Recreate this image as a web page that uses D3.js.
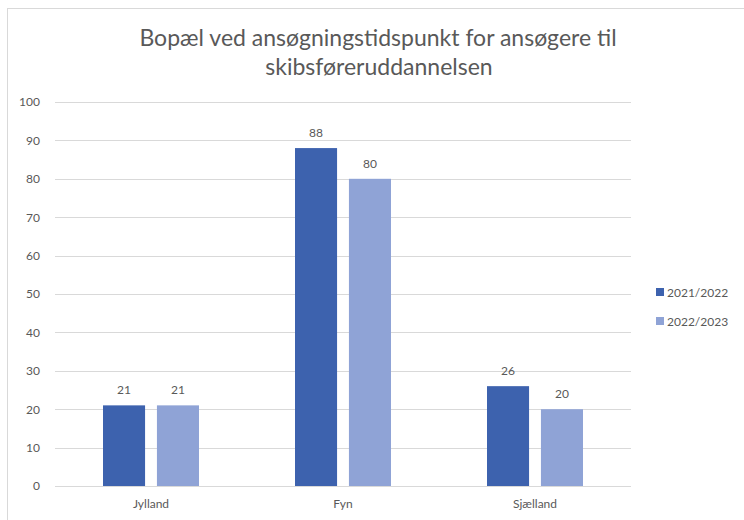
<!DOCTYPE html>
<html>
<head>
<meta charset="utf-8">
<script src="https://cdn.jsdelivr.net/npm/d3@7"></script>
<style>
  body { margin: 0; background: #fff; }
  text { font-family: Lato, "Open Sans", sans-serif; fill: #595959; }
</style>
</head>
<body>
<div id="chart"></div>
<script>
// data
var regions = ["Jylland", "Fyn", "Sjælland"];
var seriesNames = ["2021/2022", "2022/2023"];
var values2122 = [21, 88, 26];
var values2223 = [21, 80, 20];
var yTicks = [0, 10, 20, 30, 40, 50, 60, 70, 80, 90, 100];
var colors = ["#3d62ae", "#8fa3d6"];

var width = 744, height = 520;

var svg = d3.select("#chart").append("svg")
    .attr("width", width)
    .attr("height", height);

// chart border
svg.append("rect")
    .attr("x", 7.5).attr("y", 8.5)
    .attr("width", 800).attr("height", 600)
    .attr("fill", "none")
    .attr("stroke", "#d9d9d9");

var x = d3.scaleBand().domain(regions).range([55, 631]);
var x1 = d3.scaleBand().domain(seriesNames).range([48, 144]).paddingInner(0.22);
var y = d3.scaleLinear().domain([0, 100]).range([486, 102]);

// title
svg.append("text")
    .attr("x", 378).attr("y", 46)
    .attr("text-anchor", "middle")
    .style("font-size", "23px")
    .text("Bopæl ved ansøgningstidspunkt for ansøgere til");
svg.append("text")
    .attr("x", 379).attr("y", 75)
    .attr("text-anchor", "middle")
    .style("font-size", "23px")
    .text("skibsføreruddannelsen");

// gridlines
svg.append("g")
    .selectAll("line")
    .data(yTicks)
    .enter()
    .append("line")
        .attr("x1", 55).attr("x2", 631)
        .attr("y1", function(d) { return Math.round(y(d)) + 0.5; })
        .attr("y2", function(d) { return Math.round(y(d)) + 0.5; })
        .attr("stroke", "#d9d9d9")
        .attr("stroke-width", 1);

// y axis labels
var yAxis = svg.append("g")
    .attr("transform", "translate(40,0)")
    .call(d3.axisLeft(y).tickValues(yTicks).tickSize(0).tickPadding(0));
yAxis.select(".domain").remove();
yAxis.selectAll("text")
    .style("font-size", "12px")
    .style("fill", "#595959");

// bars
var dataReady = regions.map(function(r, i) {
    return { region: r, values: [
        { name: seriesNames[0], value: values2122[i] },
        { name: seriesNames[1], value: values2223[i] }
    ]};
});

var groups = svg.selectAll("myGroups")
    .data(dataReady)
    .enter()
    .append("g")
        .attr("transform", function(d) { return "translate(" + x(d.region) + ",0)"; });

groups.selectAll("rect")
    .data(function(d) { return d.values; })
    .enter()
    .append("rect")
        .attr("x", function(d) { return x1(d.name); })
        .attr("y", function(d) { return y(d.value); })
        .attr("width", x1.bandwidth())
        .attr("height", function(d) { return y(0) - y(d.value); })
        .attr("fill", function(d, i) { return colors[i]; });

groups.selectAll("text")
    .data(function(d) { return d.values; })
    .enter()
    .append("text")
        .attr("x", function(d) { return x1(d.name) + x1.bandwidth() / 2; })
        .attr("y", function(d) { return y(d.value) - 11; })
        .attr("text-anchor", "middle")
        .style("font-size", "12px")
        .text(function(d) { return d.value; });

// category labels
svg.selectAll("catLabels")
    .data(regions)
    .enter()
    .append("text")
        .attr("x", function(d) { return x(d) + x.bandwidth() / 2; })
        .attr("y", 508)
        .attr("text-anchor", "middle")
        .style("font-size", "12px")
        .text(function(d) { return d; });

// legend
var legend = svg.selectAll("legend")
    .data(seriesNames)
    .enter()
    .append("g")
        .attr("transform", function(d, i) { return "translate(656," + (292 + i * 29) + ")"; });
legend.append("rect")
    .attr("x", 0).attr("y", -4)
    .attr("width", 8).attr("height", 8)
    .attr("fill", function(d, i) { return colors[i]; });
legend.append("text")
    .attr("x", 11).attr("y", 4.5)
    .style("font-size", "12px")
    .text(function(d) { return d; });
</script>
</body>
</html>
